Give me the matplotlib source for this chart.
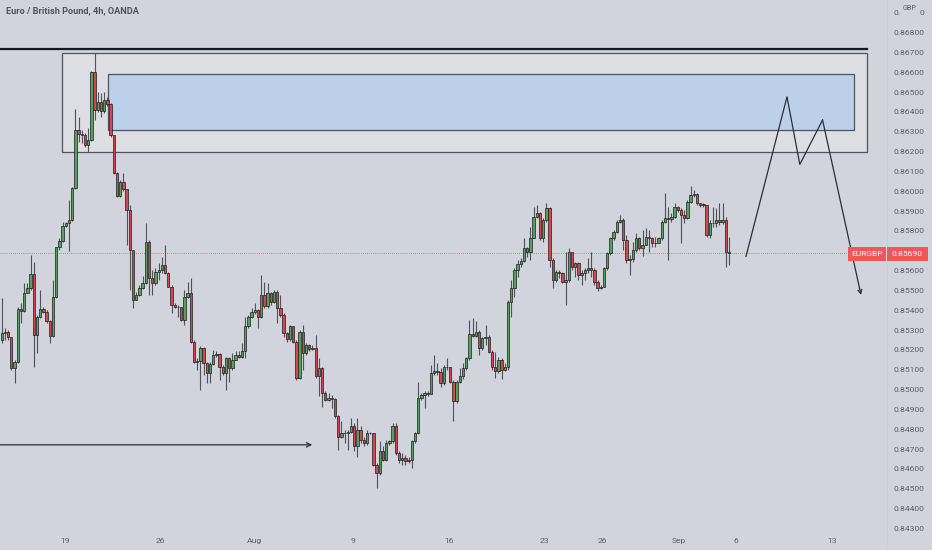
import matplotlib
matplotlib.use("Agg")
import matplotlib.pyplot as plt
from matplotlib.patches import Rectangle
import numpy as np

# ---------------- data (EURGBP 4h) ----------------
first_open = 0.85253
closes = [
    0.85290, 0.85295, 0.85270, 0.85111, 0.85144, 0.85408, 0.85400, 0.85492, 0.85514, 0.85586,
    0.85279, 0.85371, 0.85408, 0.85396, 0.85346, 0.85274, 0.85468, 0.85720, 0.85754, 0.85830,
    0.85841, 0.85858, 0.86018, 0.86312, 0.86292, 0.86285, 0.86236, 0.86261, 0.86602, 0.86413,
    0.86451, 0.86408, 0.86463, 0.86441, 0.86287, 0.86097, 0.85979, 0.86051, 0.86013, 0.85909,
    0.85707, 0.85455, 0.85480, 0.85514, 0.85539, 0.85749, 0.85564, 0.85539, 0.85598, 0.85606,
    0.85631, 0.85593, 0.85522, 0.85430, 0.85421, 0.85418, 0.85354, 0.85472, 0.85489, 0.85245,
    0.85144, 0.85149, 0.85211, 0.85136, 0.85085, 0.85132, 0.85178, 0.85183, 0.85119, 0.85085,
    0.85161, 0.85111, 0.85153, 0.85178, 0.85169, 0.85195, 0.85321, 0.85371, 0.85396, 0.85405,
    0.85371, 0.85480, 0.85425, 0.85489, 0.85442, 0.85497, 0.85413, 0.85379, 0.85287, 0.85257,
    0.85321, 0.85245, 0.85060, 0.85295, 0.85186, 0.85228, 0.85206, 0.85211, 0.85069, 0.85111,
    0.84985, 0.84951, 0.84959, 0.84954, 0.84867, 0.84766, 0.84786, 0.84783, 0.84791, 0.84817,
    0.84716, 0.84800, 0.84749, 0.84733, 0.84783, 0.84786, 0.84623, 0.84581, 0.84691, 0.84649,
    0.84733, 0.84741, 0.84820, 0.84682, 0.84649, 0.84657, 0.84640, 0.84649, 0.84741, 0.84786,
    0.84959, 0.84976, 0.84985, 0.84981, 0.85085, 0.85094, 0.85089, 0.85035, 0.85119, 0.85116,
    0.85043, 0.84943, 0.85043, 0.85069, 0.85111, 0.85161, 0.85284, 0.85274, 0.85295, 0.85211,
    0.85262, 0.85270, 0.85194, 0.85119, 0.85094, 0.85152, 0.85102, 0.85119, 0.85446, 0.85514,
    0.85606, 0.85636, 0.85653, 0.85715, 0.85698, 0.85766, 0.85875, 0.85895, 0.85766, 0.85858,
    0.85917, 0.85656, 0.85556, 0.85598, 0.85589, 0.85547, 0.85556, 0.85698, 0.85623, 0.85640,
    0.85581, 0.85589, 0.85606, 0.85614, 0.85606, 0.85547, 0.85514, 0.85522, 0.85614, 0.85690,
    0.85766, 0.85799, 0.85850, 0.85858, 0.85757, 0.85656, 0.85660, 0.85707, 0.85766, 0.85715,
    0.85732, 0.85774, 0.85766, 0.85740, 0.85744, 0.85766, 0.85850, 0.85866, 0.85861, 0.85875,
    0.85922, 0.85908, 0.85883, 0.85866, 0.85950, 0.85984, 0.85989, 0.85942, 0.85934, 0.85934,
    0.85782, 0.85841, 0.85841, 0.85858, 0.85850, 0.85858, 0.85698, 0.85690,
]
highs = [
    0.85463, 0.85312, 0.85304, 0.85270, 0.85153, 0.85421, 0.85438, 0.85539, 0.85539, 0.85682,
    0.85648, 0.85379, 0.85505, 0.85421, 0.85405, 0.85354, 0.85556, 0.85724, 0.85766, 0.85850,
    0.85850, 0.85959, 0.86026, 0.86416, 0.86379, 0.86312, 0.86295, 0.86320, 0.86611, 0.86698,
    0.86505, 0.86497, 0.86505, 0.86480, 0.86446, 0.86287, 0.86102, 0.86060, 0.86097, 0.86013,
    0.85934, 0.85707, 0.85497, 0.85531, 0.85573, 0.85841, 0.85757, 0.85606, 0.85615, 0.85640,
    0.85673, 0.85732, 0.85598, 0.85531, 0.85438, 0.85430, 0.85421, 0.85505, 0.85547, 0.85564,
    0.85253, 0.85161, 0.85220, 0.85215, 0.85144, 0.85144, 0.85203, 0.85195, 0.85186, 0.85127,
    0.85169, 0.85169, 0.85186, 0.85195, 0.85195, 0.85237, 0.85371, 0.85379, 0.85413, 0.85438,
    0.85408, 0.85581, 0.85547, 0.85539, 0.85497, 0.85505, 0.85505, 0.85480, 0.85388, 0.85295,
    0.85329, 0.85324, 0.85253, 0.85304, 0.85329, 0.85237, 0.85233, 0.85228, 0.85279, 0.85161,
    0.85119, 0.84993, 0.84985, 0.84976, 0.84959, 0.84875, 0.84842, 0.84800, 0.84800, 0.84859,
    0.84833, 0.84859, 0.84817, 0.84766, 0.84800, 0.84791, 0.84786, 0.84632, 0.84741, 0.84716,
    0.84749, 0.84749, 0.84833, 0.84833, 0.84691, 0.84682, 0.84674, 0.84665, 0.84749, 0.84791,
    0.85043, 0.84985, 0.84993, 0.84993, 0.85127, 0.85178, 0.85136, 0.85111, 0.85127, 0.85161,
    0.85119, 0.85052, 0.85052, 0.85111, 0.85136, 0.85169, 0.85354, 0.85363, 0.85346, 0.85304,
    0.85270, 0.85329, 0.85278, 0.85203, 0.85194, 0.85169, 0.85161, 0.85136, 0.85455, 0.85556,
    0.85614, 0.85656, 0.85665, 0.85766, 0.85724, 0.85824, 0.85925, 0.85934, 0.85900, 0.85866,
    0.85942, 0.85925, 0.85665, 0.85606, 0.85606, 0.85598, 0.85698, 0.85715, 0.85698, 0.85648,
    0.85648, 0.85606, 0.85614, 0.85665, 0.85698, 0.85614, 0.85556, 0.85530, 0.85623, 0.85698,
    0.85774, 0.85808, 0.85858, 0.85883, 0.85866, 0.85782, 0.85682, 0.85749, 0.85791, 0.85774,
    0.85808, 0.85816, 0.85808, 0.85774, 0.85774, 0.85774, 0.85858, 0.85992, 0.85925, 0.85892,
    0.85942, 0.85929, 0.85917, 0.85908, 0.85959, 0.86029, 0.86009, 0.85992, 0.85942, 0.85942,
    0.85934, 0.85858, 0.85925, 0.85917, 0.85945, 0.85942, 0.85875, 0.85774,
]
lows = [
    0.85240, 0.85253, 0.85253, 0.85102, 0.85035, 0.85136, 0.85337, 0.85396, 0.85489, 0.85505,
    0.85119, 0.85186, 0.85363, 0.85388, 0.85337, 0.85240, 0.85270, 0.85463, 0.85707, 0.85749,
    0.85825, 0.85699, 0.85855, 0.86013, 0.86253, 0.86245, 0.86228, 0.86203, 0.86258, 0.86362,
    0.86404, 0.86379, 0.86399, 0.86433, 0.86275, 0.86090, 0.85972, 0.85976, 0.86006, 0.85732,
    0.85505, 0.85413, 0.85452, 0.85475, 0.85509, 0.85536, 0.85480, 0.85480, 0.85531, 0.85556,
    0.85593, 0.85586, 0.85519, 0.85388, 0.85413, 0.85371, 0.85346, 0.85329, 0.85463, 0.85237,
    0.85136, 0.85102, 0.85001, 0.85077, 0.85035, 0.85035, 0.85127, 0.85169, 0.85052, 0.85077,
    0.85001, 0.85043, 0.85102, 0.85161, 0.85161, 0.85161, 0.85161, 0.85312, 0.85363, 0.85384,
    0.85312, 0.85363, 0.85413, 0.85413, 0.85430, 0.85438, 0.85337, 0.85371, 0.85270, 0.85245,
    0.85250, 0.85237, 0.85052, 0.85055, 0.85102, 0.85178, 0.85195, 0.85203, 0.85060, 0.84968,
    0.84917, 0.84943, 0.84943, 0.84909, 0.84859, 0.84699, 0.84758, 0.84733, 0.84699, 0.84783,
    0.84691, 0.84665, 0.84733, 0.84716, 0.84724, 0.84780, 0.84615, 0.84506, 0.84573, 0.84640,
    0.84640, 0.84724, 0.84733, 0.84674, 0.84632, 0.84623, 0.84623, 0.84632, 0.84607, 0.84733,
    0.84780, 0.84951, 0.84909, 0.84968, 0.84981, 0.85077, 0.85077, 0.85018, 0.85027, 0.85102,
    0.85035, 0.84842, 0.84934, 0.85038, 0.85055, 0.85102, 0.85153, 0.85267, 0.85270, 0.85178,
    0.85203, 0.85228, 0.85186, 0.85102, 0.85060, 0.85085, 0.85055, 0.85094, 0.85102, 0.85371,
    0.85472, 0.85572, 0.85623, 0.85648, 0.85673, 0.85656, 0.85766, 0.85866, 0.85757, 0.85749,
    0.85850, 0.85623, 0.85514, 0.85547, 0.85564, 0.85539, 0.85430, 0.85547, 0.85606, 0.85572,
    0.85556, 0.85530, 0.85556, 0.85589, 0.85572, 0.85530, 0.85502, 0.85509, 0.85519, 0.85606,
    0.85682, 0.85757, 0.85791, 0.85841, 0.85707, 0.85640, 0.85581, 0.85648, 0.85698, 0.85707,
    0.85677, 0.85732, 0.85698, 0.85724, 0.85720, 0.85749, 0.85757, 0.85841, 0.85656, 0.85850,
    0.85866, 0.85900, 0.85740, 0.85841, 0.85861, 0.85945, 0.85976, 0.85934, 0.85925, 0.85925,
    0.85774, 0.85766, 0.85824, 0.85824, 0.85833, 0.85838, 0.85623, 0.85631,
]

price_ticks = [0.868, 0.867, 0.866, 0.865, 0.864, 0.863, 0.862, 0.861, 0.860,
               0.859, 0.858, 0.856, 0.855, 0.854, 0.853, 0.852, 0.851, 0.850,
               0.849, 0.848, 0.847, 0.846, 0.845, 0.844, 0.843]
top_tick = 0.869          # partly hidden behind the currency tag
date_ticks = [20.9, 50.6, 79.9, 110.6, 140.6, 170.3, 188.4, 212.4, 230.2, 260.1]
date_labels = ["19", "26", "Aug", "9", "16", "23", "26", "Sep", "6", "13"]
last_price = 0.85690
symbol = "EURGBP"
currency = "GBP"
title = "Euro / British Pound, 4h, OANDA"

# drawings (in bar index / price units)
top_line_y = 0.86719
zone_outer = (19.9, 271.2, 0.86203, 0.86700)
zone_inner = (34.2, 267.0, 0.86312, 0.86594)
path_x = [233.3, 246.1, 250.1, 257.2, 269.2]
path_y = [0.85674, 0.86479, 0.86138, 0.86362, 0.85480]
arrow_left = (0.47, 97.9, 0.84724)

# ---------------- layout helpers ----------------
W, H = 932, 550
BG = "#d1d4dc"
TXT = "#5b5e69"


def xd(px):
    return (px - 1.7) / 3.204 + 1


def yd(py):
    return 0.867 - (py - 53) * 0.00005043


fig = plt.figure(figsize=(W / 100, H / 100), dpi=100, facecolor=BG)
ax = fig.add_axes([0, 0, 1, 1])
ax.set_facecolor(BG)
ax.set_xlim(xd(0), xd(W))
ax.set_ylim(yd(H), yd(0))
ax.axis("off")

FONT = "Roboto"
FS = 6.1

# zones
x0, x1, y0, y1 = zone_outer
ax.add_patch(Rectangle((x0, y0), x1 - x0, y1 - y0, facecolor="#dcdee3",
                       edgecolor="#50535c", lw=0.9, zorder=1))
x0, x1, y0, y1 = zone_inner
ax.add_patch(Rectangle((x0, y0), x1 - x0, y1 - y0, facecolor="#bcd0ea",
                       edgecolor="#50535c", lw=0.9, zorder=2))

# top horizontal line
ax.plot([xd(0), zone_outer[1]], [top_line_y, top_line_y], color="#131722", lw=1.6, zorder=3)

# last price dotted line
ax.plot([xd(0), xd(848)], [last_price, last_price], color="#f0515a", lw=0.6,
        ls=(0, (1, 1.5)), zorder=2)

# candles
n = len(closes)
opens = np.array([first_open] + closes[:-1])
c = np.array(closes)
h = np.maximum(np.array(highs), np.maximum(opens, c))
l = np.minimum(np.array(lows), np.minimum(opens, c))
x = np.arange(1, n + 1)
up = c >= opens
ax.vlines(x, l, h, color="#505258", lw=0.8, zorder=4)
body_bottom = np.minimum(opens, c)
body_h = np.maximum(np.abs(c - opens), 0.00003)
cols = np.where(up, "#58a05c", "#d2494c")
ax.bar(x, body_h, bottom=body_bottom, width=0.74, color=cols,
       edgecolor="#1c1d22", linewidth=0.5, zorder=5)

# projection path
ax.plot(path_x[:-1], path_y[:-1], color="#2a2e39", lw=0.9, zorder=6)
ax.annotate("", xy=(path_x[-1], path_y[-1]), xytext=(path_x[-2], path_y[-2]),
            arrowprops=dict(arrowstyle="->", color="#2a2e39", lw=0.9,
                            mutation_scale=7, shrinkA=0, shrinkB=0), zorder=6)

# left arrow
ax.annotate("", xy=(arrow_left[1], arrow_left[2]), xytext=(arrow_left[0], arrow_left[2]),
            arrowprops=dict(arrowstyle="->", color="#2a2e39", lw=0.9,
                            mutation_scale=8, shrinkA=0, shrinkB=0), zorder=6)

# separator of price scale
ax.plot([xd(887), xd(887)], [yd(0), yd(H)], color="#c9ccd4", lw=0.6, zorder=1)

# price labels
for p in price_ticks:
    ax.text(xd(908.5), p, f"{p:.5f}", ha="center", va="center", fontsize=FS,
            color=TXT, family=FONT, zorder=7)
# top tick: only its ends show around the currency tag
top_str = f"{top_tick:.5f}"
ax.text(xd(900.5), top_tick, top_str[:2], ha="right", va="center", fontsize=FS,
        color=TXT, family=FONT, zorder=7)
ax.text(xd(920), top_tick, top_str[-1], ha="left", va="center", fontsize=FS,
        color=TXT, family=FONT, zorder=7)
ax.text(xd(910), yd(8.5), currency, ha="center", va="center", fontsize=5.2, color=TXT,
        family=FONT, zorder=8)

# last price labels
ax.add_patch(Rectangle((xd(848), yd(260.5)), xd(886) - xd(848), yd(247) - yd(260.5),
                       facecolor="#f2555a", edgecolor="none", zorder=8))
ax.add_patch(Rectangle((xd(887), yd(260.5)), xd(928) - xd(887), yd(247) - yd(260.5),
                       facecolor="#f2555a", edgecolor="none", zorder=8))
ax.text(xd(867), yd(254), symbol, ha="center", va="center", fontsize=6.0,
        color="white", family=FONT, zorder=9)
ax.text(xd(907.5), yd(254), f"{last_price:.5f}", ha="center", va="center", fontsize=FS,
        color="white", family=FONT, zorder=9)

# date labels
for d, lab in zip(date_ticks, date_labels):
    ax.text(d, yd(541), lab, ha="center", va="center", fontsize=FS, color=TXT,
            family=FONT, zorder=7)

# title
ax.text(xd(6), yd(10.5), title, ha="left", va="center", fontsize=6.6, color="#50535e",
        family=FONT, fontweight="bold", zorder=7)

fig.savefig("out.png", dpi=100, facecolor=BG)
